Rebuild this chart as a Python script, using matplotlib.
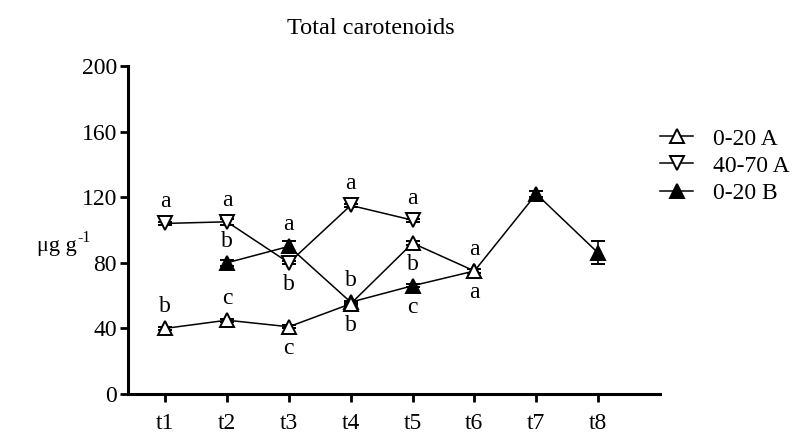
import matplotlib
matplotlib.use("Agg")
import matplotlib.pyplot as plt
from matplotlib.lines import Line2D

plt.rcParams['font.family'] = ['Liberation Serif', 'DejaVu Serif']

times = ["t1", "t2", "t3", "t4", "t5", "t6", "t7", "t8"]

# 0-20 A (open up triangle)
a020_x = [1, 2, 3, 4, 5, 6]
a020_y = [40, 45, 41, 55, 92, 75]
a020_err = [1, 1, 1, 1, 1, 1]
a020_lab_above = {1: "b", 2: "c"}
a020_lab_below = {3: "c", 4: "b", 5: "b", 6: "a"}

# 40-70 A (open down triangle)
a4070_x = [1, 2, 3, 4, 5]
a4070_y = [104, 105, 80, 115, 106]
a4070_err = [1, 2, 1, 1, 1]
a4070_lab_above = {1: "a", 2: "a", 4: "a", 5: "a"}
a4070_lab_below = {3: "b"}

# 0-20 B (filled up triangle)
b020_x = [2, 3, 4, 5, 6, 7, 8]
b020_y = [80, 90, 56, 66, 75, 122, 86]
b020_err = [2, 3, 1, 1, 1, 2, 7]
b020_lab_above = {2: "b", 3: "a", 4: "b", 6: "a"}
b020_lab_below = {5: "c"}

series_labels = ["0-20 A", "40-70 A", "0-20 B"]

fig = plt.figure(figsize=(8.11, 4.41), dpi=100)
ax = fig.add_axes([128/811, 1-394/441, 532/811, (394-66)/441])

MS = 10
common = dict(color='black', lw=1.1, ms=MS, mew=1.4, capsize=5, elinewidth=1.2, capthick=1.2)
ax.errorbar(b020_x, b020_y, yerr=b020_err, marker='^', mfc='black', mec='black', zorder=3, **common)
ax.errorbar(a4070_x, a4070_y, yerr=a4070_err, marker='v', mfc='white', mec='black', zorder=4, **common)
ax.errorbar(a020_x, a020_y, yerr=a020_err, marker='^', mfc='white', mec='black', zorder=5, **common)

def put(xs, ys, above, below):
    for x, y in zip(xs, ys):
        if x in above:
            ax.annotate(above[x], (x, y), xytext=(0, 8), textcoords='offset points',
                        ha='center', va='bottom', fontsize=17)
        if x in below:
            ax.annotate(below[x], (x, y), xytext=(0, -8), textcoords='offset points',
                        ha='center', va='top', fontsize=17)

put(a020_x, a020_y, a020_lab_above, a020_lab_below)
put(a4070_x, a4070_y, a4070_lab_above, a4070_lab_below)
put(b020_x, b020_y, b020_lab_above, b020_lab_below)

ax.set_xlim(0.4, 9.0)
ax.set_ylim(0, 200)
ax.set_yticks([0, 40, 80, 120, 160, 200])
ax.set_xticks(range(1, 9))
ax.set_xticklabels(times)
for s in ['top', 'right']:
    ax.spines[s].set_visible(False)
for s in ['left', 'bottom']:
    ax.spines[s].set_linewidth(2.2)
ax.tick_params(axis='both', width=2, length=6, labelsize=17, direction='out')
ax.tick_params(axis='x', pad=8)
ax.tick_params(axis='y', pad=2)

fig.text(371/811, 1-28/441, "Total carotenoids", ha='center', va='center', fontsize=17.5)
fig.text(37/811, 1-247/441, "μg g", ha='left', va='center', fontsize=16)
fig.text(77/811, 1-238/441, "-1", ha='left', va='center', fontsize=11.5)

handles = [
    Line2D([], [], color='black', lw=1.1, marker='^', ms=MS, mfc='white', mec='black', mew=1.4),
    Line2D([], [], color='black', lw=1.1, marker='v', ms=MS, mfc='white', mec='black', mew=1.4),
    Line2D([], [], color='black', lw=1.1, marker='^', ms=MS, mfc='black', mec='black', mew=1.4),
]
fig.legend(handles, series_labels, loc='upper left',
           bbox_to_anchor=(660/811, 1-128/441), frameon=False, fontsize=17,
           handlelength=1.4, handletextpad=0.85, labelspacing=0.24, borderpad=0,
           borderaxespad=0)

fig.savefig("out.png", dpi=100)
